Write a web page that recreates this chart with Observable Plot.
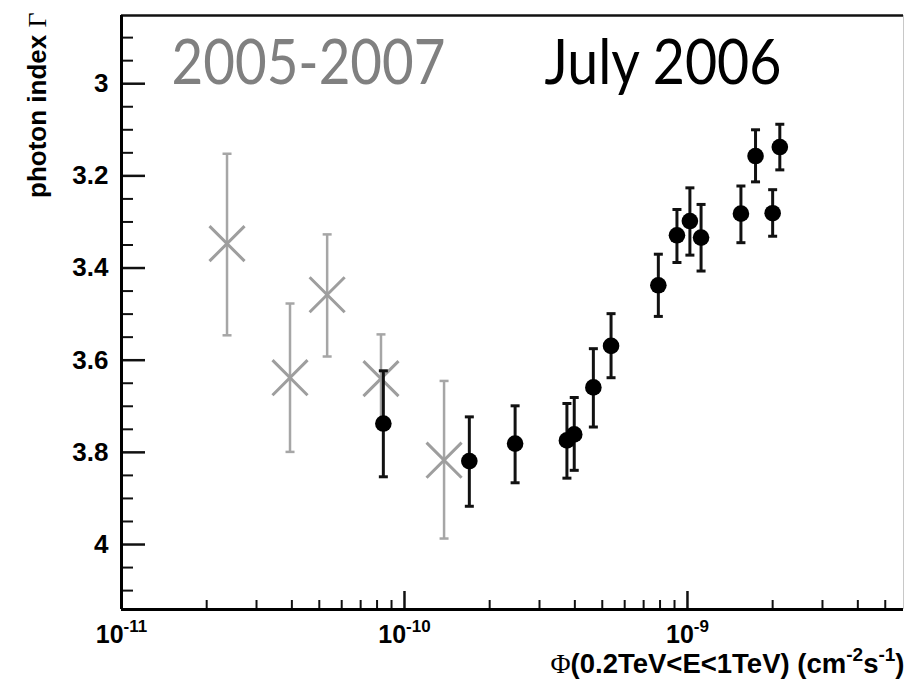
<!DOCTYPE html>
<html><head><meta charset="utf-8">
<script src="https://cdn.jsdelivr.net/npm/d3@7"></script>
<script src="https://cdn.jsdelivr.net/npm/@observablehq/plot@0.6"></script>
<style>body{margin:0;background:#fff}</style>
</head><body><div id="chart"></div>
<script>
// 2005-2007 (gray crosses)
const grayFlux  = [2.36e-11, 3.94e-11, 5.33e-11, 8.26e-11, 1.38e-10];
const grayIndex = [3.347, 3.638, 3.458, 3.640, 3.817];
const grayLo    = [3.152, 3.477, 3.327, 3.544, 3.645];
const grayHi    = [3.546, 3.799, 3.592, 3.736, 3.987];
// July 2006 (black dots)
const blackFlux  = [8.42e-11, 1.695e-10, 2.46e-10, 3.75e-10, 3.98e-10, 4.65e-10, 5.37e-10, 7.89e-10, 9.18e-10, 1.02e-9, 1.117e-9, 1.545e-9, 1.74e-9, 2.0e-9, 2.12e-9];
const blackIndex = [3.7375, 3.819, 3.781, 3.774, 3.761, 3.659, 3.569, 3.4375, 3.329, 3.298, 3.334, 3.282, 3.157, 3.281, 3.1375];
const blackLo    = [3.623, 3.723, 3.699, 3.694, 3.681, 3.575, 3.499, 3.370, 3.273, 3.226, 3.262, 3.222, 3.100, 3.230, 3.088];
const blackHi    = [3.853, 3.917, 3.866, 3.856, 3.839, 3.745, 3.638, 3.505, 3.388, 3.372, 3.4065, 3.345, 3.213, 3.331, 3.187];
// ticks and labels
const xMajor = [1e-11, 1e-10, 1e-9];
const xMajorLabels = ["10^{-11}", "10^{-10}", "10^{-9}"];
const xMinor = [2e-11,3e-11,4e-11,5e-11,6e-11,7e-11,8e-11,9e-11,2e-10,3e-10,4e-10,5e-10,6e-10,7e-10,8e-10,9e-10,2e-9,3e-9,4e-9,5e-9];
const yMajor = [3, 3.2, 3.4, 3.6, 3.8, 4];
const yMinor = [2.9, 2.95, 3.05, 3.1, 3.15, 3.25, 3.3, 3.35, 3.45, 3.5, 3.55, 3.65, 3.7, 3.75, 3.85, 3.9, 3.95, 4.05, 4.1];
const xTitle = "Φ(0.2TeV<E<1TeV) (cm^{-2}s^{-1})";
const yTitle = "photon index Γ";
const label1 = "2005-2007";
const label2 = "July 2006";

const W = 905, H = 680, mL = 121, mR = 2, mT = 15, mB = 71;
const pw = W - mL - mR, ph = H - mT - mB;
const xDomain = [1e-11, 5.8e-9];
const yDomain = [2.852, 4.141];

const gray = grayFlux.map((x, i) => ({x, y: grayIndex[i], lo: grayLo[i], hi: grayHi[i]}));
const black = blackFlux.map((x, i) => ({x, y: blackIndex[i], lo: blackLo[i], hi: blackHi[i]}));
const xLabelMap = new Map(xMajor.map((d, i) => [d, xMajorLabels[i]]));

const cap = {draw(ctx, size) { const w = Math.sqrt(size / Math.PI); ctx.moveTo(-w, 0); ctx.lineTo(w, 0); }};
const grayC = "#a6a6a6", blackC = "#111";

const chart = Plot.plot({
  width: W, height: H,
  marginLeft: mL, marginRight: mR, marginTop: mT, marginBottom: mB,
  x: {type: "log", domain: xDomain},
  y: {domain: yDomain, reverse: true},
  style: {fontFamily: "'Liberation Sans', Arial, sans-serif", background: "#fff", color: "#000"},
  marks: [
    // frame
    Plot.ruleX([xDomain[1]], {stroke: "#c8c8c8", strokeWidth: 1}),
    Plot.ruleY([yDomain[0]], {stroke: "#111", strokeWidth: 2.5}),
    // ticks
    Plot.ruleY(yMinor, {y: d => d, insetRight: pw - 12, strokeWidth: 2, stroke: "#111"}),
    Plot.ruleY(yMajor, {y: d => d, insetRight: pw - 24, strokeWidth: 2.5, stroke: "#111"}),
    Plot.ruleX(xMinor, {x: d => d, insetTop: ph - 9, strokeWidth: 2, stroke: "#111"}),
    Plot.ruleX(xMajor, {x: d => d, insetTop: ph - 18, strokeWidth: 2.5, stroke: "#111"}),
    Plot.ruleX([xDomain[0]], {stroke: "#000", strokeWidth: 3}),
    Plot.ruleY([yDomain[1]], {stroke: "#000", strokeWidth: 3}),
    // axes labels
    Plot.axisY(yMajor, {tickSize: 0, tickPadding: 13, fontSize: 26, fontWeight: "bold", tickFormat: d => String(d), label: null}),
    Plot.axisX(xMajor, {tickSize: 0, tickPadding: 16, fontSize: 25, fontWeight: "bold", tickFormat: d => xLabelMap.get(d), label: null}),
    Plot.text([yTitle], {text: d => d, frameAnchor: "top-left", rotate: -90, textAnchor: "end", lineAnchor: "bottom", dx: -76, dy: -3, fontSize: 26, fontWeight: "bold"}),
    Plot.text([xTitle], {text: d => d, frameAnchor: "bottom-right", textAnchor: "end", lineAnchor: "bottom", dx: 1, dy: 63, fontSize: 27.5, fontWeight: "bold"}),
    // annotations
    Plot.text([label1], {text: d => d, frameAnchor: "top-left", textAnchor: "start", lineAnchor: "bottom", dx: 50, dy: 68, fontFamily: "Lato", fontSize: 62, fill: "#808080"}),
    Plot.text([label2], {text: d => d, frameAnchor: "top-left", textAnchor: "start", lineAnchor: "bottom", dx: 423, dy: 68, fontFamily: "Lato", fontSize: 62, fill: "#000"}),
    // gray data
    Plot.ruleX(gray, {x: "x", y1: "lo", y2: "hi", stroke: grayC, strokeWidth: 2.5}),
    Plot.dot(gray, {x: "x", y: "lo", symbol: cap, r: 4.5, fill: "none", stroke: grayC, strokeWidth: 2.5}),
    Plot.dot(gray, {x: "x", y: "hi", symbol: cap, r: 4.5, fill: "none", stroke: grayC, strokeWidth: 2.5}),
    Plot.dot(gray, {x: "x", y: "y", symbol: "times", r: 16, stroke: "#9e9e9e", strokeWidth: 3}),
    // black data
    Plot.ruleX(black, {x: "x", y1: "lo", y2: "hi", stroke: blackC, strokeWidth: 3}),
    Plot.dot(black, {x: "x", y: "lo", symbol: cap, r: 4.5, fill: "none", stroke: blackC, strokeWidth: 3}),
    Plot.dot(black, {x: "x", y: "hi", symbol: cap, r: 4.5, fill: "none", stroke: blackC, strokeWidth: 3}),
    Plot.dot(black, {x: "x", y: "y", r: 8.3, fill: "#000"})
  ]
});
document.getElementById("chart").appendChild(chart);

// superscripts and special glyphs
d3.select(chart).selectAll("text").each(function () {
  const t = this.textContent;
  const el = d3.select(this);
  if (t === label1) { el.attr("textLength", 274).attr("lengthAdjust", "spacingAndGlyphs"); return; }
  if (t === label2) { el.attr("textLength", 237).attr("lengthAdjust", "spacingAndGlyphs"); return; }
  if (t === yTitle) {
    el.text("");
    el.append("tspan").text(t.slice(0, -1));
    el.append("tspan").attr("font-family", "'Liberation Serif', serif").attr("font-weight", "normal").text(t.slice(-1));
    return;
  }
  if (!t.includes("^{")) return;
  const fs = parseFloat(getComputedStyle(this).fontSize) || 24;
  const raise = Math.round(fs * 0.45);
  const parts = t.split(/\^\{([^}]*)\}/);
  el.text("");
  let raised = false;
  parts.forEach((p, i) => {
    if (p === "") return;
    if (i % 2 === 1) {
      el.append("tspan").attr("font-size", Math.round(fs * 0.68)).attr("dy", raised ? 0 : -raise).text(p);
      raised = true;
    } else {
      let s = p;
      const first = el.append("tspan").attr("dy", raised ? raise : 0);
      raised = false;
      if (s.startsWith("Φ")) {
        first.attr("font-family", "'Liberation Serif', serif").attr("font-weight", "normal").text("Φ");
        s = s.slice(1);
        el.append("tspan").text(s);
      } else first.text(s);
    }
  });
});
</script>
</body></html>
